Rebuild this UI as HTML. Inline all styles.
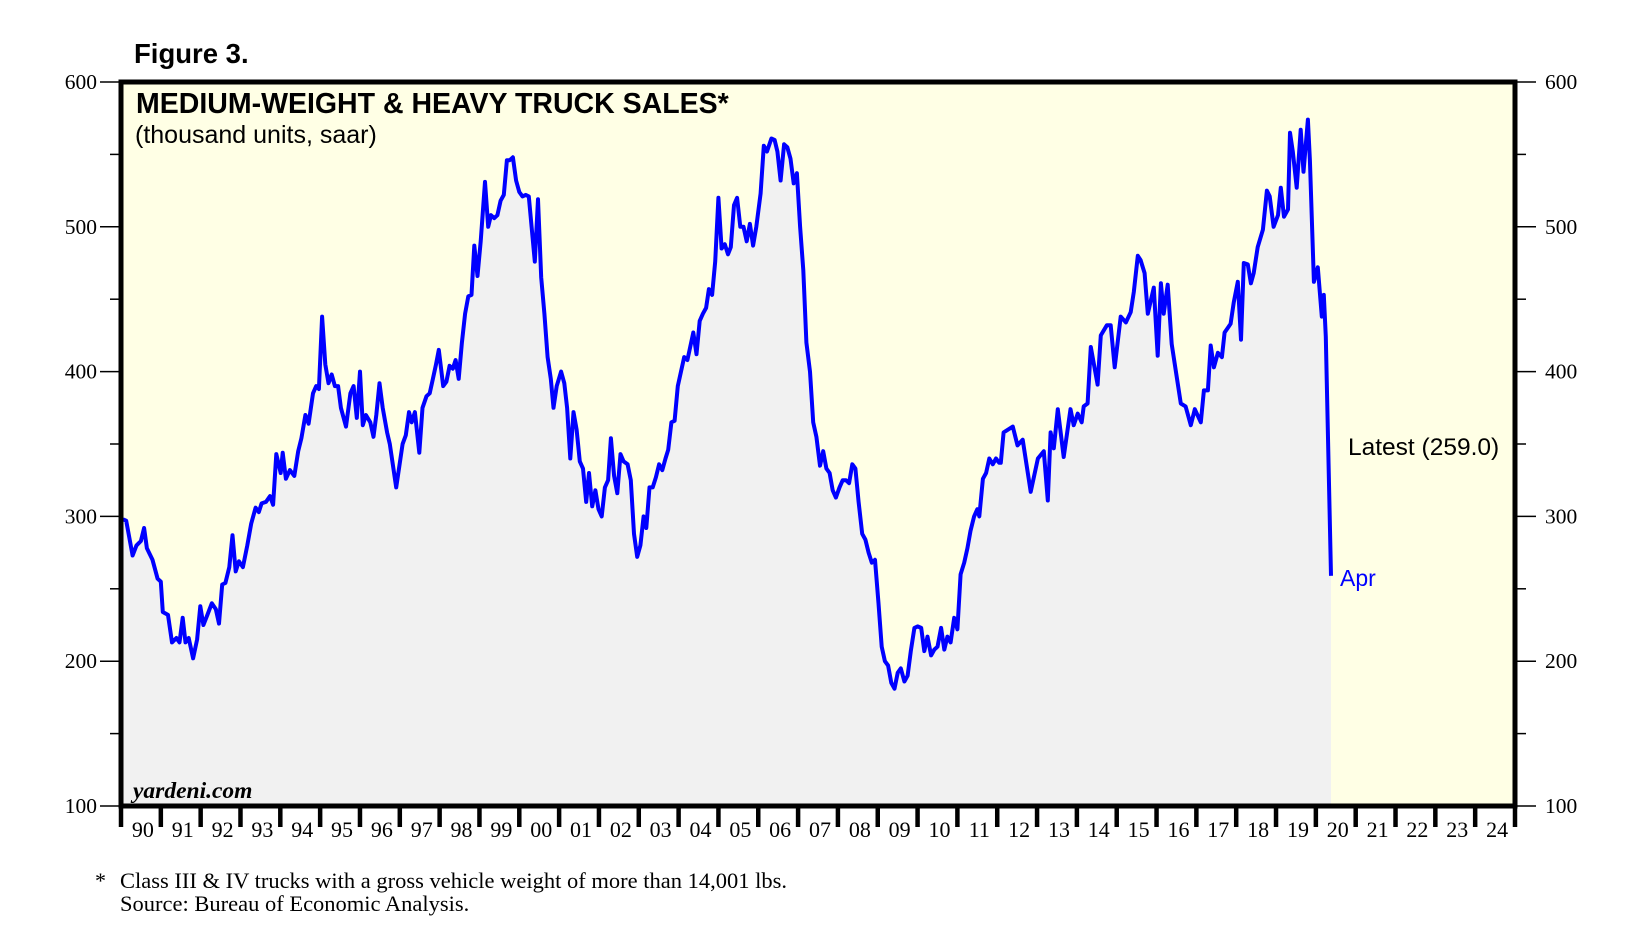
<!DOCTYPE html>
<html><head><meta charset="utf-8">
<style>
html,body{margin:0;padding:0;background:#fff;width:1636px;height:941px;overflow:hidden}
svg{display:block}
.serif{font-family:"Liberation Serif",serif}
.sans{font-family:"Liberation Sans",sans-serif}
</style></head>
<body>
<svg id="chart" width="1636" height="941" viewBox="0 0 1636 941">
  <text x="134" y="63" class="sans" font-size="27.5" font-weight="bold">Figure 3.</text>
  <rect x="121" y="82" width="1394" height="724" fill="#ffffe5"/>
  <g id="fill-layer"></g>
  <g id="line-layer"></g>
  <rect x="121" y="82" width="1394" height="724" fill="none" stroke="#000" stroke-width="5"/>
  <g id="y-left"></g><g id="y-right"></g><g id="x-axis"></g>
  <text x="136" y="113" class="sans" font-size="28.5" font-weight="bold">MEDIUM-WEIGHT &amp; HEAVY TRUCK SALES*</text>
  <text x="135" y="143" class="sans" font-size="25">(thousand units, saar)</text>
  <text x="133" y="798" class="serif" font-size="23.5" font-style="italic" font-weight="bold">yardeni.com</text>
  <text x="1348" y="455" class="sans" font-size="24.5">Latest (259.0)</text>
  <text x="1340" y="586" class="sans" font-size="23" fill="#0000ff">Apr</text>
  <text x="95" y="888" class="serif" font-size="22">*</text>
  <text x="120" y="888" class="serif" font-size="22.5">Class III &amp; IV trucks with a gross vehicle weight of more than 14,001 lbs.</text>
  <text x="120" y="911" class="serif" font-size="22.5">Source: Bureau of Economic Analysis.</text>
</svg>
<script>
const dates = [1990.05,1990.13,1990.29,1990.39,1990.50,1990.58,1990.65,1990.79,1990.92,1991.00,1991.05,1991.18,1991.28,1991.39,1991.47,1991.55,1991.62,1991.70,1991.81,1991.91,1991.99,1992.07,1992.17,1992.28,1992.38,1992.46,1992.54,1992.62,1992.72,1992.80,1992.88,1992.96,1993.06,1993.17,1993.27,1993.38,1993.46,1993.53,1993.64,1993.74,1993.82,1993.90,1994.01,1994.06,1994.14,1994.24,1994.35,1994.45,1994.53,1994.63,1994.71,1994.82,1994.90,1994.97,1995.05,1995.13,1995.21,1995.29,1995.37,1995.45,1995.52,1995.65,1995.76,1995.84,1995.92,1996.00,1996.07,1996.15,1996.26,1996.34,1996.41,1996.49,1996.57,1996.68,1996.75,1996.83,1996.91,1996.99,1997.07,1997.15,1997.23,1997.30,1997.38,1997.49,1997.57,1997.67,1997.75,1997.83,1997.91,1997.98,1998.09,1998.17,1998.25,1998.33,1998.40,1998.48,1998.56,1998.64,1998.72,1998.80,1998.87,1998.95,1999.03,1999.14,1999.22,1999.29,1999.37,1999.45,1999.53,1999.61,1999.69,1999.76,1999.84,1999.92,2000.00,2000.08,2000.16,2000.24,2000.31,2000.39,2000.47,2000.55,2000.63,2000.71,2000.79,2000.86,2000.94,2001.05,2001.13,2001.20,2001.28,2001.36,2001.44,2001.52,2001.60,2001.68,2001.75,2001.83,2001.91,2001.99,2002.07,2002.15,2002.23,2002.30,2002.38,2002.46,2002.54,2002.62,2002.72,2002.80,2002.88,2002.96,2003.04,2003.12,2003.19,2003.27,2003.35,2003.43,2003.51,2003.59,2003.67,2003.74,2003.82,2003.90,2003.98,2004.06,2004.14,2004.22,2004.29,2004.37,2004.45,2004.53,2004.61,2004.69,2004.76,2004.84,2004.92,2005.00,2005.08,2005.16,2005.24,2005.31,2005.39,2005.47,2005.55,2005.63,2005.71,2005.79,2005.87,2005.95,2006.06,2006.14,2006.22,2006.33,2006.41,2006.48,2006.56,2006.65,2006.73,2006.81,2006.89,2006.97,2007.05,2007.13,2007.21,2007.30,2007.38,2007.46,2007.55,2007.63,2007.71,2007.79,2007.87,2007.95,2008.04,2008.12,2008.20,2008.28,2008.36,2008.44,2008.52,2008.61,2008.69,2008.77,2008.85,2008.93,2009.02,2009.10,2009.18,2009.26,2009.34,2009.42,2009.50,2009.58,2009.67,2009.75,2009.83,2009.92,2010.00,2010.09,2010.17,2010.25,2010.34,2010.42,2010.50,2010.59,2010.67,2010.75,2010.83,2010.92,2011.00,2011.08,2011.17,2011.25,2011.33,2011.42,2011.50,2011.55,2011.64,2011.72,2011.80,2011.89,2011.97,2012.05,2012.09,2012.16,2012.39,2012.51,2012.64,2012.84,2013.02,2013.17,2013.27,2013.34,2013.42,2013.52,2013.67,2013.84,2013.92,2014.02,2014.12,2014.17,2014.27,2014.35,2014.52,2014.60,2014.75,2014.85,2014.95,2015.10,2015.23,2015.35,2015.43,2015.53,2015.60,2015.70,2015.78,2015.93,2016.03,2016.11,2016.18,2016.28,2016.38,2016.61,2016.73,2016.86,2016.96,2017.11,2017.19,2017.29,2017.36,2017.44,2017.54,2017.64,2017.71,2017.81,2017.86,2017.94,2018.04,2018.12,2018.19,2018.29,2018.37,2018.44,2018.54,2018.67,2018.77,2018.84,2018.94,2019.05,2019.12,2019.20,2019.30,2019.35,2019.42,2019.52,2019.62,2019.69,2019.80,2019.85,2019.95,2020.05,2020.15,2020.20,2020.25,2020.38];
const sales = [298,297,273,280,283,292,278,270,257,255,234,232,213,216,213,230,213,216,202,215,238,225,232,240,236,226,253,254,265,287,262,269,265,280,295,306,303,309,310,314,308,343,330,344,326,332,328,345,354,370,364,385,390,388,438,405,392,398,390,390,375,362,385,390,368,400,363,370,365,355,370,392,375,358,350,335,320,335,350,356,372,365,372,344,375,383,385,395,405,415,390,393,404,402,408,395,420,440,452,453,487,466,490,531,500,508,506,508,518,522,546,546,548,532,524,521,522,521,500,476,519,465,440,410,395,375,390,400,392,375,340,372,360,338,333,310,330,307,318,305,300,320,325,354,328,316,343,338,336,325,288,272,280,300,292,320,320,327,336,332,340,346,365,366,390,400,410,408,417,427,412,435,440,444,457,453,476,520,485,488,481,486,515,520,500,500,490,502,487,500,523,556,552,561,560,552,532,557,555,547,530,537,500,470,420,400,365,355,335,345,333,330,318,313,320,325,325,323,336,333,310,288,284,275,268,270,240,210,200,197,185,181,192,195,186,190,207,223,224,223,207,217,204,208,210,223,208,217,213,230,222,260,268,278,290,300,305,300,326,330,340,336,340,337,337,358,362,349,353,317,340,345,311,358,347,374,341,374,363,371,365,376,378,417,391,425,432,432,403,438,434,441,455,480,477,468,440,458,411,461,440,460,419,378,376,363,374,365,387,387,418,403,413,410,427,431,433,448,462,422,475,474,461,468,486,498,525,521,500,508,527,507,512,565,552,527,567,538,574,546,462,472,438,453,424,259];
const yTicks = [100,200,300,400,500,600];
const yMinor = [150,250,350,450,550];
const yearLabels = ["90","91","92","93","94","95","96","97","98","99","00","01","02","03","04","05","06","07","08","09","10","11","12","13","14","15","16","17","18","19","20","21","22","23","24"];
const startYear = 1990, endYear = 2025, yMin = 100, yMax = 600;

const L=121,R=1515,T=82,B=806;
const xs = y => L + (y-startYear)/(endYear-startYear)*(R-L);
const ys = v => B - (v-yMin)/(yMax-yMin)*(B-T);
const NS="http://www.w3.org/2000/svg";
function mk(tag, attrs, parent){const e=document.createElementNS(NS,tag);for(const k in attrs)e.setAttribute(k,attrs[k]);parent.appendChild(e);return e;}

let d = dates.map((t,i)=>(i?"L":"M")+xs(t).toFixed(1)+","+ys(sales[i]).toFixed(1)).join("");
const fillD = d + "L"+xs(dates[dates.length-1]).toFixed(1)+","+B+"L"+xs(dates[0]).toFixed(1)+","+B+"Z";
const area = mk("path",{d:fillD,fill:"#f1f1f1",stroke:"none"},document.getElementById("fill-layer"));


const line = mk("path",{d:d,fill:"none",stroke:"#0000ff","stroke-width":"4","stroke-linejoin":"round"},document.getElementById("line-layer"));



const yl=document.getElementById("y-left"), yr=document.getElementById("y-right");
yTicks.forEach(v=>{
  const y=ys(v);
  const t1=mk("line",{x1:100,x2:L,y1:y,y2:y,stroke:"#000","stroke-width":"1.5"},yl);
  
  
  const l1=mk("text",{x:97,y:y+7,"text-anchor":"end","font-size":"21.5","font-family":"Liberation Serif, serif"},yl);
  l1.textContent=v;
  
  
  const t2=mk("line",{x1:R,x2:1536,y1:y,y2:y,stroke:"#000","stroke-width":"1.5"},yr);
  
  
  const l2=mk("text",{x:1545,y:y+7,"font-size":"21.5","font-family":"Liberation Serif, serif"},yr);
  l2.textContent=v;
  
  
});
yMinor.forEach(v=>{
  const y=ys(v);
  const m1=mk("line",{x1:110,x2:L,y1:y,y2:y,stroke:"#000","stroke-width":"1.5"},yl);
  
  
  const m2=mk("line",{x1:R,x2:1526,y1:y,y2:y,stroke:"#000","stroke-width":"1.5"},yr);
  
  
});
const xa=document.getElementById("x-axis");
for(let i=0;i<=yearLabels.length;i++){
  const x=xs(startYear+i);
  const tk=mk("line",{x1:x,x2:x,y1:B,y2:827,stroke:"#000","stroke-width":"4.5"},xa);
  
  
}
yearLabels.forEach((lab,i)=>{
  const t=mk("text",{x:xs(startYear+i+0.5)+2,y:837,"text-anchor":"middle","font-size":"22","font-family":"Liberation Serif, serif"},xa);
  t.textContent=lab;
  
  
});
</script>
</body></html>
